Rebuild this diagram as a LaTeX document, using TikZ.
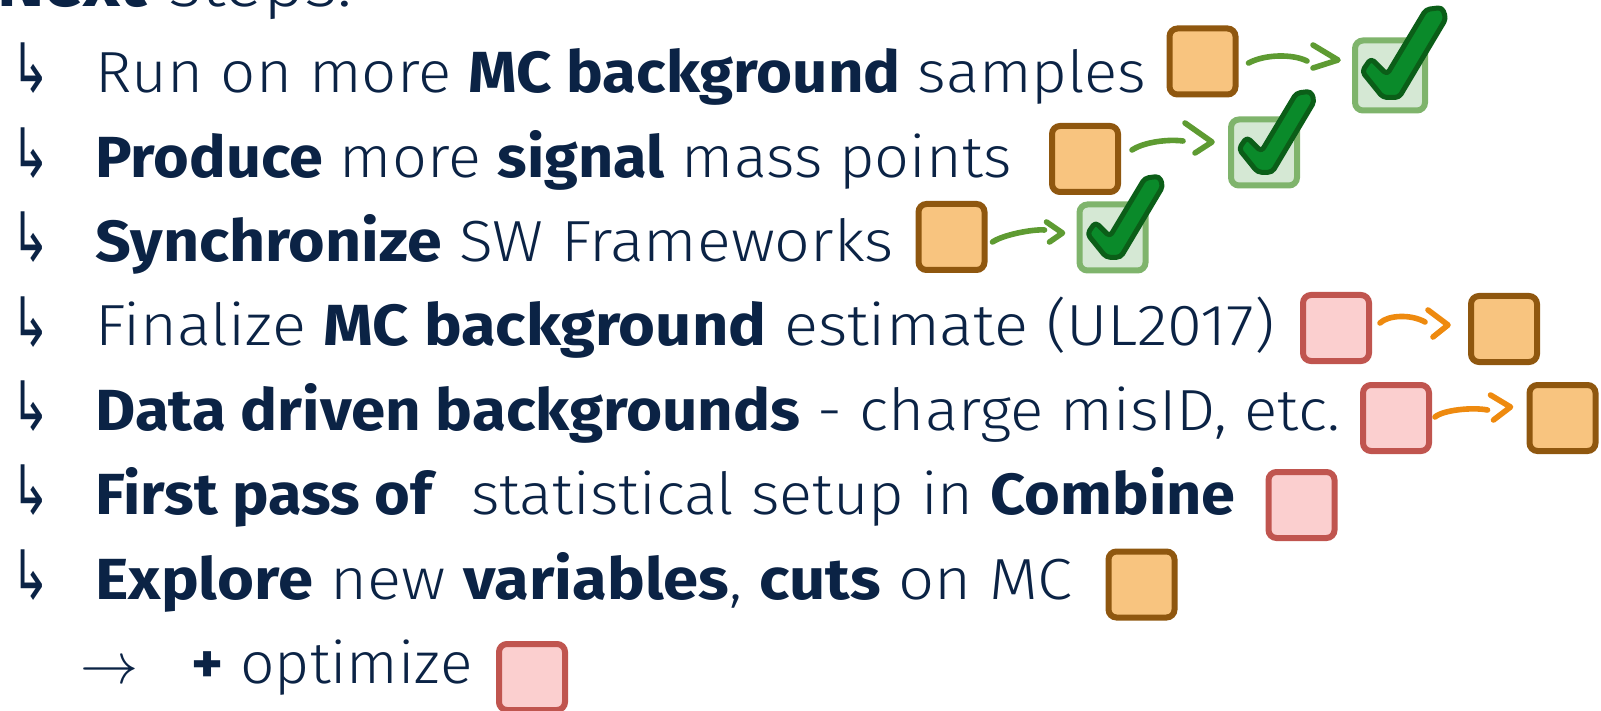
\documentclass[tikz,border=0pt]{standalone}
\usepackage{graphicx}
\usepackage{fontspec}
\setmainfont{Fira Sans}[UprightFont={* Light}, BoldFont={* Bold}]
\newfontfamily\arrowfont{DejaVu Sans}
\usetikzlibrary{calc}

\definecolor{ink}{HTML}{0B2345}
\definecolor{ofill}{HTML}{F8C47F}
\definecolor{oline}{HTML}{8F570F}
\definecolor{pfill}{HTML}{FBCFCF}
\definecolor{pline}{HTML}{C0554F}
\definecolor{gfill}{HTML}{D5E8D4}
\definecolor{gline}{HTML}{7FB46C}
\definecolor{ckdark}{HTML}{0B5E18}
\definecolor{ckfill}{HTML}{0A8A2A}
\definecolor{garrowc}{HTML}{5E9B32}
\definecolor{oarrowc}{HTML}{EE8A0F}

\begin{document}
\begin{tikzpicture}[x=0.5pt,y=-0.5pt,
  txt/.style={anchor=base west, inner sep=0pt, text=ink, font=\fontsize{29}{34}\selectfont},
  title/.style={anchor=base west, inner sep=0pt, text=ink, font=\fontsize{32}{38}\selectfont},
  hook/.style={anchor=base west, inner sep=0pt, text=ink, font=\arrowfont\fontsize{22}{26}\selectfont},
  box/.style={draw, line width=3pt, minimum size=33pt, inner sep=0pt, rounded corners=4pt},
  obox/.style={box, fill=ofill, draw=oline},
  pbox/.style={box, fill=pfill, draw=pline},
  gbox/.style={box, fill=gfill, draw=gline},
  harrow/.style={line width=2.8pt, line cap=round, line join=round},
  garrow/.style={harrow, draw=garrowc},
  oarrow/.style={harrow, draw=oarrowc},
  pics/tick/.style={code={
    \filldraw[draw=ckdark, fill=ckfill, line width=2.5pt, line join=round, rounded corners=2pt]
      (-28,-4) -- (-19,-17) -- (-3,-1) -- (36,-66) -- (52,-68) -- (56,-57)
      -- (9,22) -- (-7,22) -- cycle;}}
]
\useasboundingbox (0,0) rectangle (1601,711);

% heading, cut at the top edge
\node[title] (head) at (-3,7) {\resizebox{177.5pt}{\height}{\textbf{Next} steps:}};

% bullet marks
\foreach \i/\yy in {1/93,2/177.5,3/262,4/346,5/430.5,6/514.5,7/599}
  \node[hook] (hk\i) at (11,\yy) {\scalebox{1.05}[1.55]{↳}};

% item texts
\node[txt] (t1) at (95,93) {\resizebox{525.5pt}{\height}{Run on more \textbf{MC background} samples}};
\node[txt] (t2) at (95,177.5) {\resizebox{458pt}{\height}{\textbf{Produce} more \textbf{signal} mass points}};
\node[txt] (t3) at (95,262) {\resizebox{399pt}{\height}{\textbf{Synchronize} SW Frameworks}};
\node[txt] (t4) at (95,346) {\resizebox{589.5pt}{\height}{Finalize \textbf{MC background} estimate (UL2017)}};
\node[txt] (t5) at (95,430.5) {\resizebox{622.5pt}{\height}{\textbf{Data driven backgrounds} - charge misID, etc.}};
\node[txt] (t6) at (95,514.5) {\resizebox{570pt}{\height}{\textbf{First pass of} \ statistical setup in \textbf{Combine}}};
\node[txt] (t7) at (95,599) {\resizebox{488.5pt}{\height}{\textbf{Explore} new \textbf{variables}, \textbf{cuts} on MC}};
\node[txt] (arr8) at (80,683) {\resizebox{29pt}{!}{$\rightarrow$}};
\node[txt] (t8) at (191,683) {\resizebox{140.5pt}{\height}{\textbf{+} optimize}};

% status boxes
\node[obox] (O1) at (1202.5,61.5) {};
\node[gbox, minimum size=35pt] (G1) at (1390,75.5) {};
\node[obox] (O2) at (1085,159) {};
\node[gbox] (G2) at (1264,152.5) {};
\node[obox] (O3) at (951.5,237) {};
\node[gbox] (G3) at (1112.5,237.5) {};
\node[pbox] (P4) at (1336,328) {};
\node[obox] (O4) at (1504,329) {};
\node[pbox] (P5) at (1396,418) {};
\node[obox] (O5) at (1562.5,418) {};
\node[pbox] (P6) at (1301.5,505) {};
\node[obox] (O7) at (1141.5,584.5) {};
\node[pbox] (P8) at (532,677) {};

% ticks on the finished items
\pic at (G1) {tick};
\pic[scale=0.9] at (G2) {tick};
\pic[scale=0.9] at (G3) {tick};

% hand-drawn transition arrows
\draw[garrow] ([shift={(10,1.5)}]O1.east) .. controls +(17,-9) and +(-14,-7) .. ([shift={(-45,-14.5)}]G1.west);
\draw[garrow] ([shift={(-39,-30.5)}]G1.west) -- ([shift={(-14,-15.5)}]G1.west) -- ([shift={(-39,-7.5)}]G1.west);

\draw[garrow] ([shift={(11,-9)}]O2.east) .. controls +(12,-8) and +(-15,-2) .. ([shift={(-45,-11.5)}]G2.west);
\draw[garrow] ([shift={(-43,-29.5)}]G2.west) -- ([shift={(-16,-10.5)}]G2.west) -- ([shift={(-33,0.5)}]G2.west);

\draw[garrow] ([shift={(5,5)}]O3.east) .. controls +(10,-7) and +(-12,-1) .. ([shift={(-32,-7.5)}]G3.west);
\draw[garrow] ([shift={(-30,-15.5)}]G3.west) -- ([shift={(-14,-4.5)}]G3.west) -- ([shift={(-27,4.5)}]G3.west);

\draw[oarrow] ([shift={(8,-5)}]P4.east) .. controls +(8,-8) and +(-14,-8) .. ([shift={(-43,-7)}]O4.west);
\draw[oarrow] ([shift={(-40,-19)}]O4.west) -- ([shift={(-20,-4)}]O4.west) -- ([shift={(-35,8)}]O4.west);

\draw[oarrow] ([shift={(3,-1)}]P5.east) .. controls +(8,-7) and +(-15,-3) .. ([shift={(-39,-8)}]O5.west);
\draw[oarrow] ([shift={(-36,-23)}]O5.west) -- ([shift={(-16,-11)}]O5.west) -- ([shift={(-33,2)}]O5.west);
\end{tikzpicture}
\end{document}
